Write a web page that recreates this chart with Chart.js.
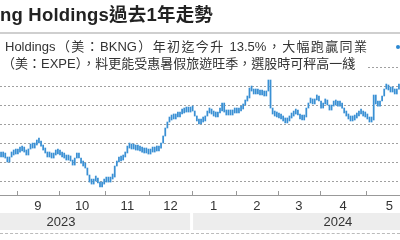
<!DOCTYPE html>
<html lang="zh-Hant">
<head>
<meta charset="UTF-8">
<title>Booking Holdings過去1年走勢</title>
<script src="https://cdn.jsdelivr.net/npm/chart.js"></script>
<style>
  body { margin: 0; background: #fff; font-family: 'Liberation Sans', 'Noto Sans CJK TC', sans-serif; }
  #wrap { position: relative; width: 400px; height: 240px; overflow: hidden; }
  #wrap canvas { position: absolute; left: 0; top: 0; }
  .title { position: absolute; left: 0; top: 4px; font-size: 18.5px; font-weight: bold; color: #222; white-space: nowrap; line-height: 22px; letter-spacing: 0.2px; }
  .rule { position: absolute; left: 0; top: 32px; width: 400px; border-top: 2px solid #cfcfcf; }
  .note { position: absolute; left: 0; top: 36px; width: 368px; height: 36px; background: #fff; }
  .note div { position: absolute; font-size: 13px; color: #333; line-height: 17px; }
  .l1 { left: 5px; top: 2px; width: 362px; text-align: justify; text-align-last: justify; }
  .l2 { left: 2px; top: 19px; white-space: nowrap; }
  .dot { position: absolute; left: 396px; top: 45px; width: 4px; height: 4px; border-radius: 2px; background: #2b87d1; }
  .foot { position: absolute; left: 0; top: 233px; width: 400px; border-top: 1px dashed #bbb; }
</style>
</head>
<body>
<div id="wrap">
  <canvas id="chart" width="400" height="240"></canvas>
  <div class="title">ng Holdings過去1年走勢</div>
  <div class="rule"></div>
  <div class="note">
    <div class="l1">Holdings（美：BKNG）年初迄今升 13.5%，大幅跑贏同業</div>
    <div class="l2">（美：EXPE），料更能受惠暑假旅遊旺季，選股時可秤高一綫</div>
  </div>
  <div class="dot"></div>
  <div class="foot"></div>
</div>

<script>
// month labels and trading days per month (Aug 2023 - May 2024)
const monthNames = ['8', '9', '10', '11', '12', '1', '2', '3', '4', '5'];
const monthDays = [23, 20, 22, 21, 20, 21, 20, 20, 22, 22];
const skipDays = 15; // Aug days before the visible window

const years = ['2023', '2024'];
const yearFrom = [-33, 91];
const yearTo = [90, 229];

// daily closes, USD
const closes = [
  // Aug
  3053, 3063, 3042, 3000, 3053, 3074, 3095, 3084,
  // Sep
  3105, 3116, 3126, 3105, 3074, 3137, 3158, 3147, 3179, 3200,
  3211, 3168, 3126, 3095, 3053, 3063, 3042, 3074, 3084, 3095,
  // Oct
  3074, 3053, 3042, 3021, 3032, 3011, 2968, 3042, 3063, 3042, 2989,
  2958, 2937, 2863, 2789, 2768, 2800, 2811, 2779, 2737, 2768, 2789,
  // Nov
  2800, 2789, 2821, 2842, 2958, 3000, 3011, 3021, 3053, 3095, 3168,
  3147, 3137, 3147, 3126, 3137, 3116, 3105, 3095, 3116, 3084,
  // Dec
  3126, 3105, 3137, 3116, 3147, 3200, 3274, 3358, 3421, 3442,
  3463, 3453, 3484, 3474, 3505, 3516, 3526, 3537, 3526, 3547,
  // Jan
  3537, 3484, 3432, 3400, 3421, 3432, 3484, 3516, 3547, 3505, 3484,
  3474, 3516, 3537, 3621, 3526, 3495, 3505, 3495, 3516, 3526,
  // Feb
  3516, 3537, 3558, 3600, 3642, 3674, 3779, 3747, 3716, 3726,
  3716, 3705, 3716, 3695, 3747, 3863, 3568, 3505, 3484, 3474,
  // Mar
  3463, 3453, 3432, 3411, 3432, 3463, 3484, 3505, 3516, 3495,
  3453, 3442, 3474, 3568, 3621, 3632, 3611, 3653, 3663, 3642,
  // Apr
  3568, 3611, 3632, 3600, 3547, 3589, 3611, 3600, 3589, 3611, 3568,
  3516, 3484, 3453, 3432, 3442, 3463, 3484, 3516, 3505, 3484, 3474,
  // May
  3453, 3421, 3442, 3705, 3611, 3589, 3642, 3695, 3768, 3779,
  3758, 3737, 3747, 3716, 3768, 3821
];

// one category per trading day, named by its month
const labels = [];
monthNames.forEach((m, k) => { for (let d = 0; d < monthDays[k]; d++) labels.push(m); });
const dayLabels = labels.slice(skipDays, skipDays + closes.length);

// each bar runs from the previous close to today's close
const bars = closes.map((c, i) => [i ? closes[i - 1] : c, c]);

const axisPlugin = {
  id: 'monthAxis',
  afterDraw(chart) {
    const ctx = chart.ctx;
    const x = chart.scales.x;
    const area = chart.chartArea;
    const step = x.getPixelForValue(1) - x.getPixelForValue(0);
    const base = area.bottom;
    ctx.save();

    ctx.strokeStyle = '#999';
    ctx.lineWidth = 1;
    ctx.beginPath();
    ctx.moveTo(0, base + 0.5);
    ctx.lineTo(400, base + 0.5);
    ctx.stroke();

    ctx.fillStyle = '#333';
    ctx.font = '13px "Liberation Sans", sans-serif';
    ctx.textAlign = 'center';
    ctx.textBaseline = 'middle';
    let start = -skipDays;
    monthNames.forEach((m, k) => {
      const end = start + monthDays[k] - 1;
      const left = x.getPixelForValue(start) - step / 2;
      if (k > 0) {
        ctx.beginPath();
        ctx.moveTo(Math.round(left) + 0.5, base - 4);
        ctx.lineTo(Math.round(left) + 0.5, base + 1);
        ctx.stroke();
      }
      const mid = (x.getPixelForValue(start) + x.getPixelForValue(end)) / 2;
      ctx.fillText(m, mid, base + 11);
      start = end + 1;
    });

    years.forEach((y, k) => {
      const l = x.getPixelForValue(yearFrom[k]) - step / 2;
      const r = x.getPixelForValue(yearTo[k]) + step / 2;
      ctx.fillStyle = '#ededed';
      ctx.fillRect(l + 1.5, base + 18, r - l - 3, 17);
      ctx.fillStyle = '#333';
      ctx.fillText(y, (l + r) / 2, base + 27);
    });
    ctx.restore();
  }
};

new Chart(document.getElementById('chart'), {
  type: 'bar',
  data: {
    labels: dayLabels,
    datasets: [{
      data: bars,
      backgroundColor: '#3a90d4',
      borderWidth: 0,
      barThickness: 1.1,
      minBarLength: 5
    }]
  },
  options: {
    responsive: false,
    animation: false,
    layout: { padding: { top: 67, bottom: 45, left: 0, right: 0 } },
    plugins: { legend: { display: false }, tooltip: { enabled: false } },
    scales: {
      x: { display: false },
      y: {
        min: 2653,
        max: 4000,
        ticks: { display: false, stepSize: 200 },
        border: { display: false, dash: [2, 2] },
        grid: {
          drawTicks: false,
          lineWidth: 1,
          color: c => (c.tick && c.tick.value % 200 === 0) ? '#a0a0a0' : 'rgba(0,0,0,0)'
        }
      }
    }
  },
  plugins: [axisPlugin]
});
</script>
</body>
</html>
